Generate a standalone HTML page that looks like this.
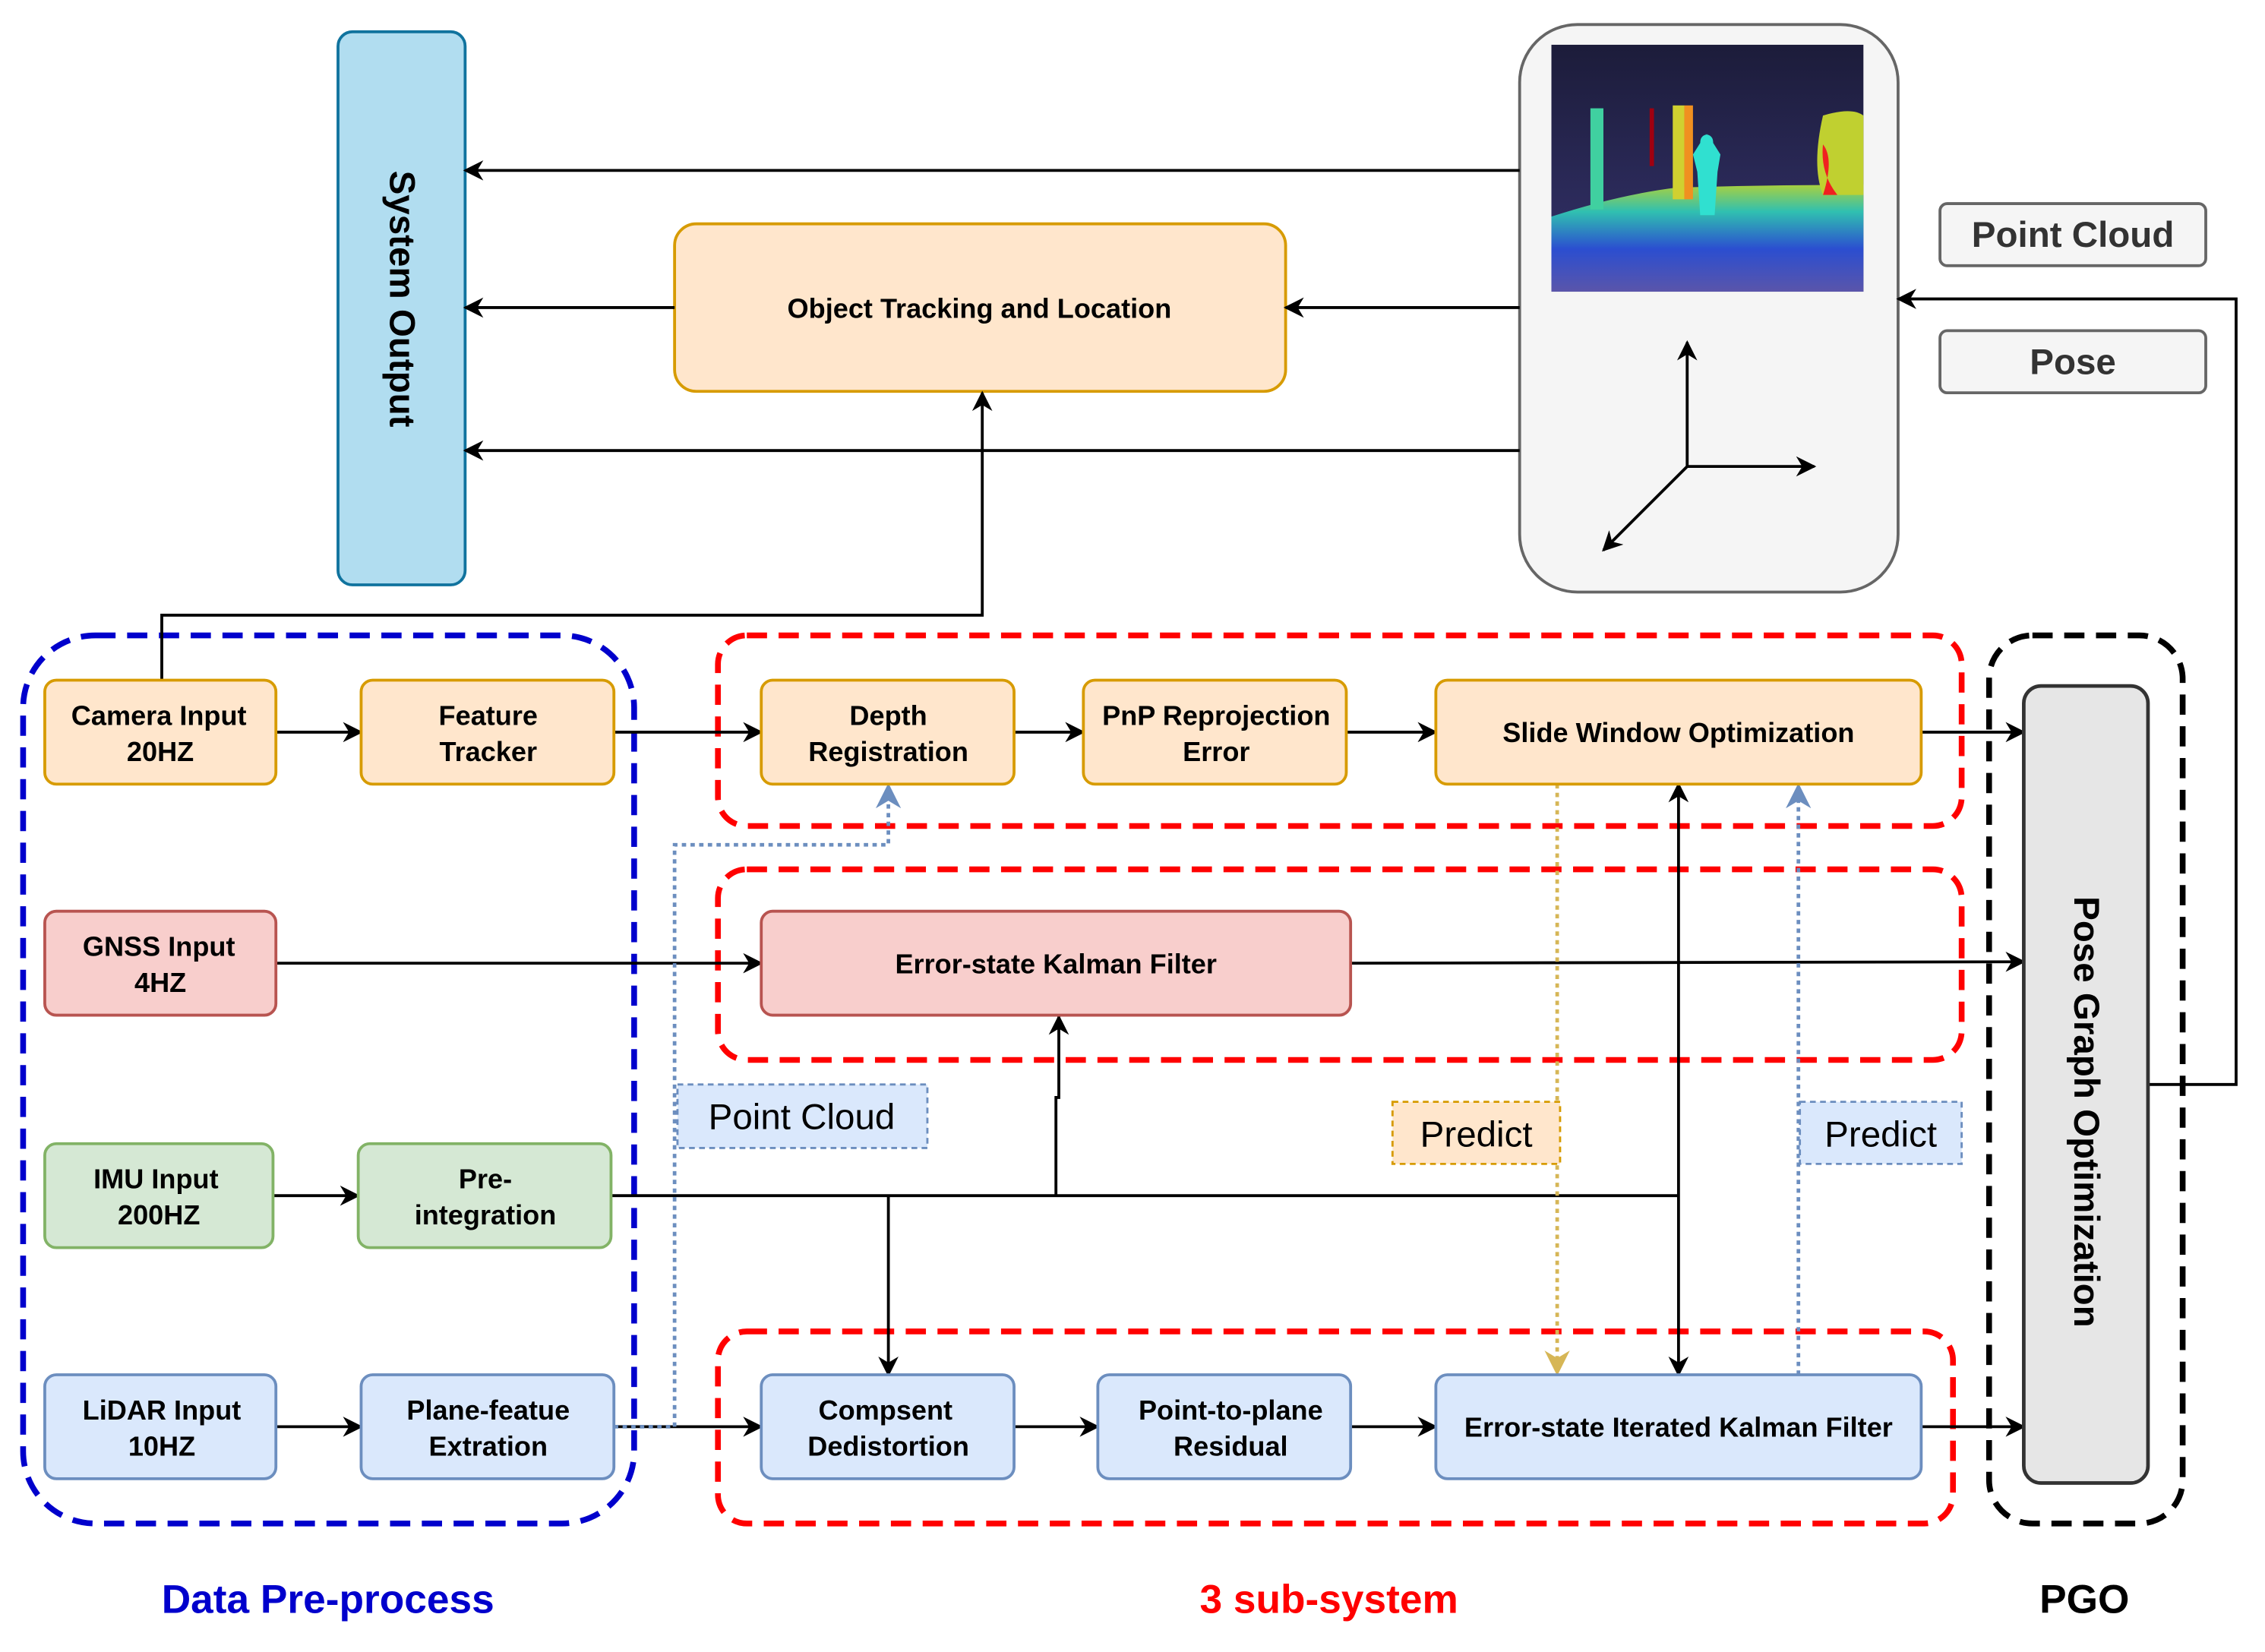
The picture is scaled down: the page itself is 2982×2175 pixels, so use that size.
<!DOCTYPE html>
<html><head><meta charset="utf-8"><style>html,body{margin:0;padding:0;background:#fff}svg{display:block}</style></head>
<body>
<svg width="2982" height="2175" viewBox="0 0 1568 1144" preserveAspectRatio="none" xmlns="http://www.w3.org/2000/svg" font-family="Liberation Sans, sans-serif">
<defs>
<marker id="a" viewBox="0 0 10 10" refX="9" refY="5" markerWidth="7" markerHeight="7" orient="auto-start-reverse"><path d="M0,0 L10,5 L0,10 L3,5 z" fill="#000"/></marker>
<marker id="ab" viewBox="0 0 10 10" refX="9" refY="5" markerWidth="7" markerHeight="7" orient="auto"><path d="M0,0 L10,5 L0,10 L3,5 z" fill="#6c8ebf"/></marker>
<marker id="ao" viewBox="0 0 10 10" refX="9" refY="5" markerWidth="7" markerHeight="7" orient="auto"><path d="M0,0 L10,5 L0,10 L3,5 z" fill="#d6b656"/></marker>
<linearGradient id="sky" x1="0" y1="0" x2="0" y2="1"><stop offset="0" stop-color="#1c1c3a"/><stop offset="1" stop-color="#35336e"/></linearGradient>
<linearGradient id="gnd" x1="0" y1="0" x2="0" y2="1"><stop offset="0" stop-color="#a8d040"/><stop offset="0.25" stop-color="#30c0b0"/><stop offset="0.6" stop-color="#2b4ed0"/><stop offset="1" stop-color="#5a55aa"/></linearGradient>
</defs>
<!-- regions -->
<rect x="16" y="440" width="423" height="615" rx="50" fill="none" stroke="#0000cc" stroke-width="4" stroke-dasharray="14,8"/>
<rect x="497" y="440" width="861" height="132" rx="20" fill="none" stroke="#ff0000" stroke-width="4" stroke-dasharray="14,8"/>
<rect x="497" y="602" width="861" height="132" rx="20" fill="none" stroke="#ff0000" stroke-width="4" stroke-dasharray="14,8"/>
<rect x="497" y="922" width="855" height="133" rx="20" fill="none" stroke="#ff0000" stroke-width="4" stroke-dasharray="14,8"/>
<rect x="1377" y="440" width="134" height="615" rx="30" fill="none" stroke="#000" stroke-width="4" stroke-dasharray="14,8"/>

<!-- top -->
<rect x="234" y="22" width="88" height="383" rx="10" fill="#b1ddf0" stroke="#10739e" stroke-width="2"/>
<text transform="translate(270,207) rotate(90)" text-anchor="middle" font-size="25" font-weight="bold">System Output</text>
<rect x="467" y="155" width="423" height="116" rx="15" fill="#ffe6cc" stroke="#d79b00" stroke-width="2"/>
<text x="678" y="220" text-anchor="middle" font-size="19" font-weight="bold">Object Tracking and Location</text>
<rect x="1052" y="17" width="262" height="393" rx="40" fill="#f5f5f5" stroke="#666" stroke-width="2"/>
<rect x="1074" y="31" width="216" height="171" fill="url(#sky)"/>
<path d="M1074,150 Q1120,135 1160,130 Q1220,128 1290,128 L1290,202 L1074,202 z" fill="url(#gnd)"/>
<rect x="1101" y="75" width="9" height="70" fill="#40d0a0"/>
<rect x="1158" y="73" width="8" height="65" fill="#d0d030"/>
<rect x="1166" y="73" width="6" height="65" fill="#f09020"/>
<rect x="1142" y="75" width="3" height="40" fill="#a00010"/>
<path d="M1180,93 q6,0 6,6 l5,8 l-2,12 l-2,30 h-10 l-2,-30 l-3,-12 l5,-8 q0,-6 6,-6z" fill="#30e0d0"/>
<path d="M1262,80 q20,-6 28,0 v55 h-28 q-8,-20 0,-55z" fill="#c0d030"/>
<path d="M1262,100 q8,10 0,35 h10 q-12,-15 -10,-35z" fill="#f02020"/>
<line x1="1168" y1="323" x2="1168" y2="237" stroke="#000" stroke-width="2" marker-end="url(#a)"/>
<line x1="1168" y1="323" x2="1256" y2="323" stroke="#000" stroke-width="2" marker-end="url(#a)"/>
<line x1="1168" y1="323" x2="1110" y2="381" stroke="#000" stroke-width="2" marker-end="url(#a)"/>
<rect x="1343" y="141" width="184" height="43" rx="5" fill="#f5f5f5" stroke="#666" stroke-width="2"/>
<text x="1435" y="171" text-anchor="middle" font-size="25" font-weight="bold" fill="#333">Point Cloud</text>
<rect x="1343" y="229" width="184" height="43" rx="5" fill="#f5f5f5" stroke="#666" stroke-width="2"/>
<text x="1435" y="259" text-anchor="middle" font-size="25" font-weight="bold" fill="#333">Pose</text>

<g stroke="#000" stroke-width="2" fill="none">
<line x1="1052" y1="118" x2="322" y2="118" marker-end="url(#a)"/>
<line x1="1052" y1="213" x2="890" y2="213" marker-end="url(#a)"/>
<line x1="467" y1="213" x2="322" y2="213" marker-end="url(#a)"/>
<line x1="1052" y1="312" x2="322" y2="312" marker-end="url(#a)"/>
<polyline points="112,471 112,426 680,426 680,272" marker-end="url(#a)"/>
<polyline points="1488,751 1548,751 1548,207 1314,207" marker-end="url(#a)"/>
<line x1="191" y1="507" x2="250" y2="507" marker-end="url(#a)"/>
<line x1="425" y1="507" x2="527" y2="507" marker-end="url(#a)"/>
<line x1="702" y1="507" x2="750" y2="507" marker-end="url(#a)"/>
<line x1="932" y1="507" x2="994" y2="507" marker-end="url(#a)"/>
<line x1="1330" y1="507" x2="1401" y2="507" marker-end="url(#a)"/>
<line x1="191" y1="667" x2="527" y2="667" marker-end="url(#a)"/>
<line x1="935" y1="667" x2="1401" y2="666" marker-end="url(#a)"/>
<line x1="189" y1="828" x2="248" y2="828" marker-end="url(#a)"/>
<line x1="423" y1="828" x2="1162" y2="828"/>
<line x1="615" y1="828" x2="615" y2="952" marker-end="url(#a)"/>
<polyline points="731,828 731,760 733,760 733,704" marker-end="url(#a)"/>
<line x1="1162" y1="952" x2="1162" y2="543" marker-start="url(#a)" marker-end="url(#a)"/>
<line x1="191" y1="988" x2="250" y2="988" marker-end="url(#a)"/>
<line x1="425" y1="988" x2="527" y2="988" marker-end="url(#a)"/>
<line x1="702" y1="988" x2="760" y2="988" marker-end="url(#a)"/>
<line x1="935" y1="988" x2="994" y2="988" marker-end="url(#a)"/>
<line x1="1330" y1="988" x2="1401" y2="988" marker-end="url(#a)"/>
</g>
<polyline points="425,988 467,988 467,585 615,585 615,544" fill="none" stroke="#6c8ebf" stroke-width="2.5" stroke-dasharray="3,3" marker-end="url(#ab)"/>
<line x1="1245" y1="952" x2="1245" y2="544" stroke="#6c8ebf" stroke-width="2.5" stroke-dasharray="3,3" marker-end="url(#ab)"/>
<line x1="1078" y1="543" x2="1078" y2="951" stroke="#d6b656" stroke-width="2.5" stroke-dasharray="3,3" marker-end="url(#ao)"/>

<!-- nodes -->
<g stroke-width="2" font-size="19" font-weight="bold" text-anchor="middle">
<rect x="31" y="471" width="160" height="72" rx="8" fill="#ffe6cc" stroke="#d79b00"/>
<text x="110" y="502">Camera Input</text><text x="111" y="527">20HZ</text>
<rect x="250" y="471" width="175" height="72" rx="8" fill="#ffe6cc" stroke="#d79b00"/>
<text x="338" y="502">Feature</text><text x="338" y="527">Tracker</text>
<rect x="527" y="471" width="175" height="72" rx="8" fill="#ffe6cc" stroke="#d79b00"/>
<text x="615" y="502">Depth</text><text x="615" y="527">Registration</text>
<rect x="750" y="471" width="182" height="72" rx="8" fill="#ffe6cc" stroke="#d79b00"/>
<text x="842" y="502">PnP Reprojection</text><text x="842" y="527">Error</text>
<rect x="994" y="471" width="336" height="72" rx="8" fill="#ffe6cc" stroke="#d79b00"/>
<text x="1162" y="514">Slide Window Optimization</text>
<rect x="31" y="631" width="160" height="72" rx="8" fill="#f8cecc" stroke="#b85450"/>
<text x="110" y="662">GNSS Input</text><text x="111" y="687">4HZ</text>
<rect x="527" y="631" width="408" height="72" rx="8" fill="#f8cecc" stroke="#b85450"/>
<text x="731" y="674">Error-state Kalman Filter</text>
<rect x="31" y="792" width="158" height="72" rx="8" fill="#d5e8d4" stroke="#82b366"/>
<text x="108" y="823">IMU Input</text><text x="110" y="848">200HZ</text>
<rect x="248" y="792" width="175" height="72" rx="8" fill="#d5e8d4" stroke="#82b366"/>
<text x="336" y="823">Pre-</text><text x="336" y="848">integration</text>
<rect x="31" y="952" width="160" height="72" rx="8" fill="#dae8fc" stroke="#6c8ebf"/>
<text x="112" y="983">LiDAR Input</text><text x="112" y="1008">10HZ</text>
<rect x="250" y="952" width="175" height="72" rx="8" fill="#dae8fc" stroke="#6c8ebf"/>
<text x="338" y="983">Plane-featue</text><text x="338" y="1008">Extration</text>
<rect x="527" y="952" width="175" height="72" rx="8" fill="#dae8fc" stroke="#6c8ebf"/>
<text x="613" y="983">Compsent</text><text x="615" y="1008">Dedistortion</text>
<rect x="760" y="952" width="175" height="72" rx="8" fill="#dae8fc" stroke="#6c8ebf"/>
<text x="852" y="983">Point-to-plane</text><text x="852" y="1008">Residual</text>
<rect x="994" y="952" width="336" height="72" rx="8" fill="#dae8fc" stroke="#6c8ebf"/>
<text x="1162" y="995">Error-state Iterated Kalman Filter</text>
</g>
<rect x="1401" y="475" width="86" height="552" rx="12" fill="#e6e6e6" stroke="#333" stroke-width="2.5"/>
<text transform="translate(1436,770) rotate(90)" text-anchor="middle" font-size="25" font-weight="bold">Pose Graph Optimization</text>

<rect x="469" y="751" width="173" height="44" fill="#dae8fc" stroke="#6c8ebf" stroke-width="1.5" stroke-dasharray="4,3"/>
<text x="555" y="782" text-anchor="middle" font-size="25">Point Cloud</text>
<rect x="964" y="763" width="116" height="43" fill="#ffe6cc" stroke="#d79b00" stroke-width="1.5" stroke-dasharray="4,3"/>
<text x="1022" y="794" text-anchor="middle" font-size="25">Predict</text>
<rect x="1246" y="763" width="112" height="43" fill="#dae8fc" stroke="#6c8ebf" stroke-width="1.5" stroke-dasharray="4,3"/>
<text x="1302" y="794" text-anchor="middle" font-size="25">Predict</text>

<text x="227" y="1117" text-anchor="middle" font-size="28" font-weight="bold" fill="#0000cc">Data Pre-process</text>
<text x="920" y="1117" text-anchor="middle" font-size="28" font-weight="bold" fill="#ff0000">3 sub-system</text>
<text x="1443" y="1117" text-anchor="middle" font-size="28" font-weight="bold" fill="#000">PGO</text>
</svg>
</body></html>
